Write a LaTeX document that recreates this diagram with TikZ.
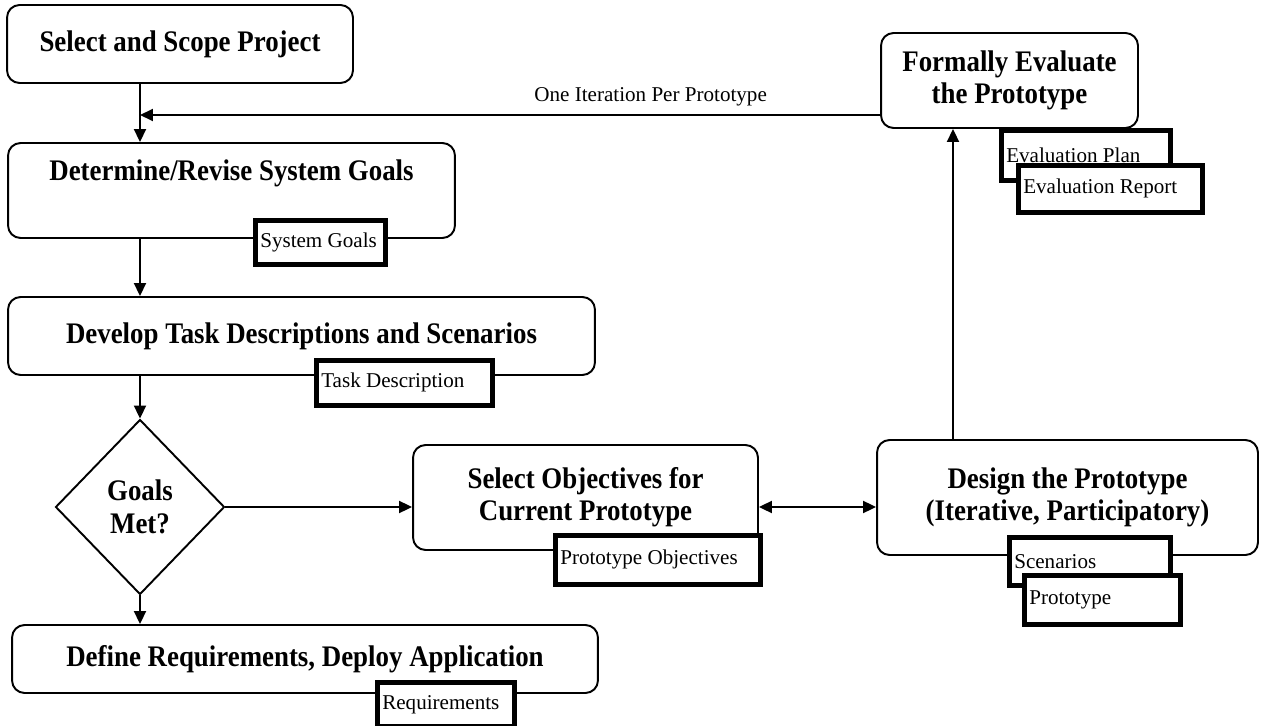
\documentclass[tikz,border=0pt]{standalone}
\usepackage{fontspec}
\setmainfont{Liberation Serif}[BoldFeatures={FakeStretch=0.9}]
\usetikzlibrary{arrows.meta,positioning,calc,shapes.geometric}

\tikzset{
  stage/.style={draw, line width=1.1pt, rounded corners=0.25cm, fill=white,
    align=center, inner sep=0pt, font=\fontsize{17}{18}\selectfont\bfseries},
  decision/.style={draw, diamond, line width=1.1pt, fill=white, align=center,
    inner sep=0pt, font=\fontsize{17}{19}\selectfont\bfseries},
  product/.style={draw, line width=2.6pt, fill=white, anchor=north west,
    align=flush left, inner xsep=0.1cm, inner ysep=0pt, text width=#1,
    font=\fontsize{12}{14}\selectfont},
  flow/.style={-{Triangle[length=0.26cm,width=0.24cm]}, line width=1.1pt},
  both/.style={{Triangle[length=0.26cm,width=0.24cm]}-{Triangle[length=0.26cm,width=0.24cm]}, line width=1.1pt},
}

\begin{document}
\begin{tikzpicture}[x=0.02cm, y=-0.02cm]
    \useasboundingbox (0,0) rectangle (1261,726);

    % left column of stages
    \node[stage, minimum width=6.92cm, minimum height=1.56cm] (scope) at (180,44) {Select and Scope Project};
    \node[stage, minimum width=8.94cm, minimum height=1.9cm, text depth=0.81cm] (goals) at (231.5,190.5) {Determine/Revise System Goals};
    \node[stage, minimum width=11.74cm, minimum height=1.56cm] (tasks) at (301.5,336) {Develop Task Descriptions and Scenarios};
    \node[decision, minimum width=3.38cm, minimum height=3.5cm] (decide) at (140,507) {Goals\\Met?};
    \node[stage, minimum width=11.72cm, minimum height=1.36cm] (deploy) at (305,659) {Define Requirements, Deploy Application};

    % prototype loop
    \node[stage, minimum width=6.9cm, minimum height=2.1cm] (objectives) at (585.5,497.5) {Select Objectives for\\Current Prototype};
    \node[stage, minimum width=7.62cm, minimum height=2.3cm] (design) at (1067.5,497.5) {Design the Prototype\\(Iterative, Participatory)};
    \node[stage, minimum width=5.14cm, minimum height=1.9cm] (evaluate) at (1009.5,80.5) {Formally Evaluate\\the Prototype};

    % connectors
    \coordinate (merge) at (140,115);
    \coordinate (lift) at (953,0);
    \draw[flow] (scope.south -| merge) -- (goals.north -| merge);
    \draw[flow] (evaluate.west |- merge) -- (merge)
      node[pos=0.31, above=1pt, font=\fontsize{12}{14}\selectfont] (loop) {One Iteration Per Prototype};
    \draw[flow] (goals.south -| merge) -- (tasks.north -| merge);
    \draw[flow] (tasks.south -| merge) -- (decide.north);
    \draw[flow] (decide.south) -- (deploy.north -| decide.south);
    \draw[flow] (decide.east) -- (objectives.west |- decide.east);
    \draw[both] (objectives.east |- decide.east) -- (design.west |- decide.east);
    \draw[flow] (design.north -| lift) -- (evaluate.south -| lift);

    % work products
    \node[product=2.4cm, minimum height=0.88cm] (sysgoals) at (253,218) {System Goals};
    \node[product=3.32cm, minimum height=0.9cm] (taskdesc) at (314,358) {Task Description};
    \node[product=3.9cm, minimum height=0.98cm] (protoobj) at (553,533) {Prototype Objectives};
    \node[product=3.02cm, minimum height=0.96cm] (scen) at (1007,535) {Scenarios};
    \node[product=2.92cm, minimum height=0.98cm] (proto) at (1022,573) {Prototype};
    \node[product=3.18cm, minimum height=1.0cm] (evalplan) at (999,128) {Evaluation Plan};
    \node[product=3.48cm, minimum height=0.94cm] (evalreport) at (1016,163) {Evaluation Report};
    \node[product=2.54cm, minimum height=0.88cm] (reqs) at (375,680) {Requirements};
\end{tikzpicture}
\end{document}
